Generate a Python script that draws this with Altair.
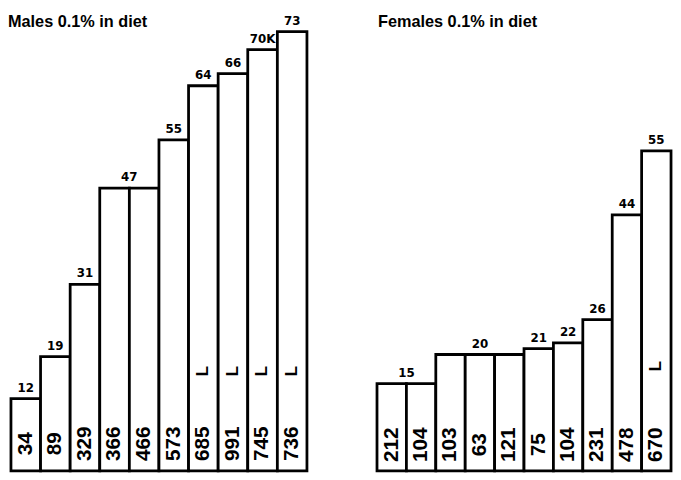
import altair as alt
import pandas as pd

# ---- data ----
male_heights = [12, 19, 31, 47, 47, 55, 64, 66, 70, 73]
male_counts = ["34", "89", "329", "366", "466", "573", "685", "991", "745", "736"]
male_L = [False, False, False, False, False, False, True, True, True, True]
male_top_text = ["12", "19", "31", "47", "55", "64", "66", "70K", "73"]
male_top_value = [12, 19, 31, 47, 55, 64, 66, 70, 73]
male_top_start = [0, 1, 2, 3, 5, 6, 7, 8, 9]
male_top_end = [1, 2, 3, 5, 6, 7, 8, 9, 10]

female_heights = [15, 15, 20, 20, 20, 21, 22, 26, 44, 55]
female_counts = ["212", "104", "103", "63", "121", "75", "104", "231", "478", "670"]
female_L = [False, False, False, False, False, False, False, False, False, True]
female_top_text = ["15", "20", "21", "22", "26", "44", "55"]
female_top_value = [15, 20, 21, 22, 26, 44, 55]
female_top_start = [0, 2, 5, 6, 7, 8, 9]
female_top_end = [2, 5, 6, 7, 8, 9, 10]

titles = ["Males 0.1% in diet", "Females 0.1% in diet"]

SANS = "Liberation Sans, Arial, sans-serif"
WIDE = "DejaVu Sans, sans-serif"
H = 466


def panel(title, heights, counts, lflags, ttext, tval, tstart, tend,
          ymax, width, ly, title_dx):
    n = len(heights)
    bars = pd.DataFrame({
        "i": list(range(n)),
        "i1": [k + 1 for k in range(n)],
        "mid": [k + 0.5 for k in range(n)],
        "h": heights,
        "count": counts,
        "L": lflags,
    })
    tops = pd.DataFrame({
        "label": ttext,
        "value": tval,
        "mid": [(a + b) / 2 for a, b in zip(tstart, tend)],
    })
    xs = alt.Scale(domain=[0, n], nice=False, zero=False)
    ys = alt.Scale(domain=[0, ymax], nice=False)

    base = alt.Chart(bars).transform_calculate(zero="0")
    rect = base.mark_bar(fill="white", stroke="black", strokeWidth=2.8,
                         strokeJoin="miter").encode(
        x=alt.X("i:Q", scale=xs, axis=None),
        x2="i1:Q",
        y=alt.Y("h:Q", scale=ys, axis=None),
        y2="zero:Q",
    )
    cnt = alt.Chart(bars).transform_calculate(ypos="4.5").mark_text(
        angle=270, align="center", baseline="middle",
        font=SANS, fontWeight="bold", fontSize=21,
        color="black").encode(
        x=alt.X("mid:Q", scale=xs, axis=None),
        y=alt.Y("ypos:Q", scale=ys, axis=None),
        text="count:N",
    )
    lmark = alt.Chart(bars).transform_filter("datum.L").transform_calculate(
        ypos=str(ly), lt="'L'").mark_text(
        angle=270, align="center", baseline="middle", font=SANS,
        fontWeight="bold", fontSize=17, color="black").encode(
        x=alt.X("mid:Q", scale=xs, axis=None),
        y=alt.Y("ypos:Q", scale=ys, axis=None),
        text="lt:N",
    )
    top = alt.Chart(tops).mark_text(baseline="bottom", dy=-4, font=WIDE,
                                    fontWeight="bold", fontSize=12,
                                    color="black").encode(
        x=alt.X("mid:Q", scale=xs, axis=None),
        y=alt.Y("value:Q", scale=ys, axis=None),
        text="label:N",
    )
    ttl = alt.Chart(pd.DataFrame({"t": [title]})).mark_text(
        align="left", baseline="alphabetic", font=SANS, fontWeight="bold",
        fontSize=16.5, color="black").encode(
        x=alt.value(title_dx), y=alt.value(16), text="t:N")
    return alt.layer(rect, cnt, lmark, top, ttl).properties(
        width=width, height=H)


males = panel(titles[0], male_heights, male_counts, male_L,
              male_top_text, male_top_value, male_top_start, male_top_end,
              76.4, 300, 16.6, -3)
females = panel(titles[1], female_heights, female_counts, female_L,
                female_top_text, female_top_value, female_top_start, female_top_end,
                79.0, 298, 18.0, 1)

chart = alt.hconcat(males, females, spacing=67).properties(
    padding=0, background="white"
).configure_view(stroke=None)

chart.save("out.html", embed_options={"renderer": "svg", "actions": False})
